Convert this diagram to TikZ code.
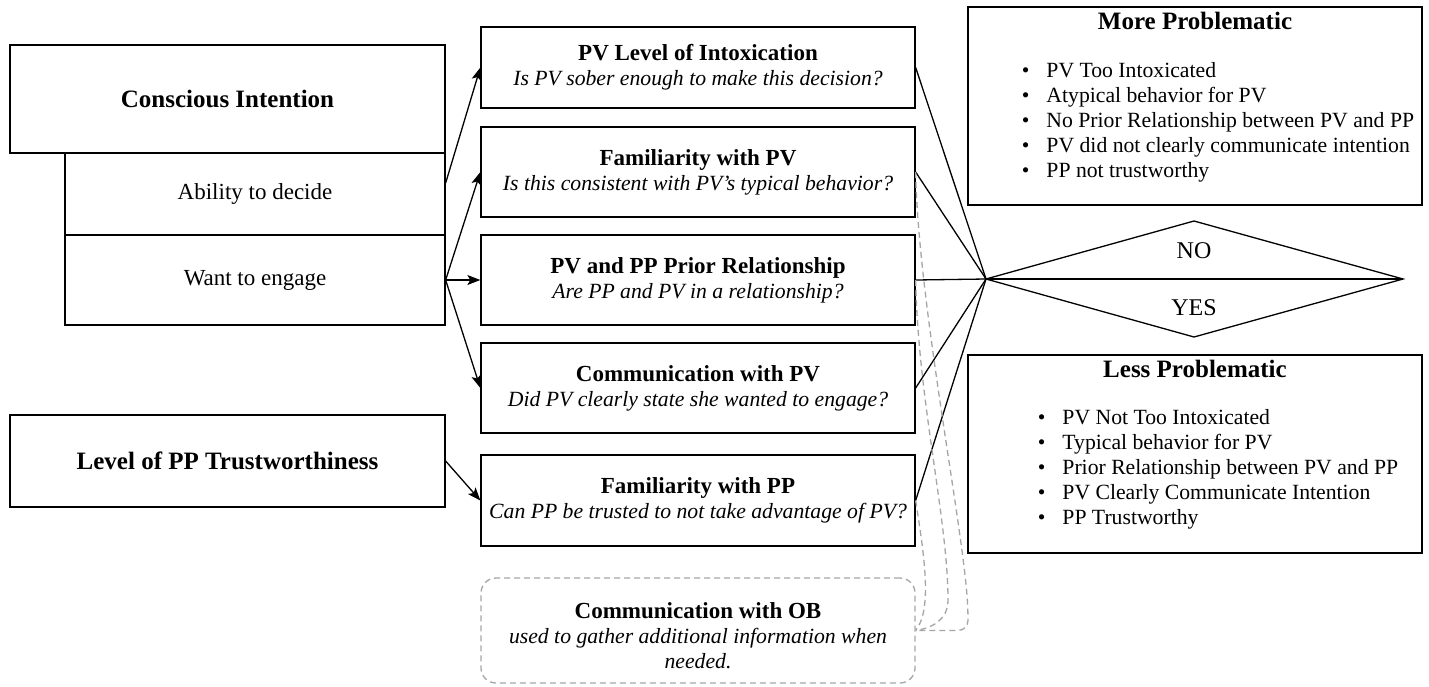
\documentclass[tikz,border=0pt]{standalone}
\usepackage{fontspec}
\setmainfont{Liberation Serif}
\usetikzlibrary{arrows.meta}
\definecolor{dgray}{HTML}{A6A6A6}
\newcommand\qttl{\fontsize{23}{25}\selectfont\bfseries\upshape}
\newcommand\qsbt{\fontsize{21.7}{25}\selectfont\mdseries\itshape}
\begin{document}
\begin{tikzpicture}[x=1pt,y=-1pt,
  box/.style={draw, line width=1.3pt, inner sep=0pt, align=center},
  midbox/.style={box, minimum width=434pt, minimum height=90pt, font=\fontsize{22}{25}\selectfont},
  conn/.style={line width=1.3pt},
  arr/.style={line width=1.3pt, -{Stealth[length=13pt,width=10pt,inset=3pt]}},
  dsh/.style={draw=dgray, line width=1.3pt, dash pattern=on 6pt off 4pt},
  bigb/.style={font=\fontsize{25}{28}\selectfont\bfseries},
  reg/.style={font=\fontsize{23}{26}\selectfont},
  lst/.style={font=\fontsize{21.7}{25}\selectfont, inner sep=0pt},
  dlab/.style={font=\fontsize{24}{28}\selectfont, inner sep=0pt}
]
\fill[white] (0,0) rectangle (1429,686);
\useasboundingbox (0,0) rectangle (1429,686);

% left boxes
\node[box, bigb, minimum width=435pt, minimum height=108pt] (ci) at (227.5,99) {Conscious Intention};
\node[box, reg, minimum width=380pt, minimum height=82pt] (abil) at (255,194) {Ability to decide};
\node[box, reg, minimum width=380pt, minimum height=90pt] (want) at (255,280) {Want to engage};
\node[box, bigb, minimum width=435pt, minimum height=92pt] (trust) at (227.5,461) {Level of PP Trustworthiness};

% middle boxes
\node[midbox, minimum height=81pt] (lvl) at (698,67.5) {\qttl PV Level of Intoxication\\\qsbt Is PV sober enough to make this decision?};
\node[midbox] (fpv) at (698,172) {\qttl Familiarity with PV\\\qsbt Is this consistent with PV’s typical behavior?};
\node[midbox] (rel) at (698,280) {\qttl PV and PP Prior Relationship\\\qsbt Are PP and PV in a relationship?};
\node[midbox] (cpv) at (698,388) {\qttl Communication with PV\\\qsbt Did PV clearly state she wanted to engage?};
\node[midbox, minimum height=91pt] (fpp) at (698,500.5) {\qttl Familiarity with PP\\\qsbt Can PP be trusted to not take advantage of PV?};

% OB box
\node[draw=dgray, line width=1.3pt, dash pattern=on 6pt off 4pt, rounded corners=15pt, minimum width=434pt, minimum height=105pt, inner sep=0pt] (ob) at (698,630.5) {};
\node[align=center, inner sep=0pt, font=\fontsize{22}{25}\selectfont] (obtext) at (698,636) {\qttl Communication with OB\\\qsbt used to gather additional information when\\\qsbt needed.};

% right boxes
\node[box, minimum width=454pt, minimum height=198pt] (more) at (1195,106) {};
\node[bigb, inner sep=0pt] (morehead) at (1195,21) {More Problematic};
\node[lst] (morelist) at (1218,122) {\begin{tabular}{@{}l@{\hspace{17pt}}l@{}}
\textbullet & PV Too Intoxicated\\
\textbullet & Atypical behavior for PV\\
\textbullet & No Prior Relationship between PV and PP\\
\textbullet & PV did not clearly communicate intention\\
\textbullet & PP not trustworthy
\end{tabular}};

\node[box, minimum width=454pt, minimum height=198pt] (less) at (1195,454) {};
\node[bigb, inner sep=0pt] (lesshead) at (1195,369) {Less Problematic};
\node[lst] (lesslist) at (1218,469) {\begin{tabular}{@{}l@{\hspace{17pt}}l@{}}
\textbullet & PV Not Too Intoxicated\\
\textbullet & Typical behavior for PV\\
\textbullet & Prior Relationship between PV and PP\\
\textbullet & PV Clearly Communicate Intention\\
\textbullet & PP Trustworthy
\end{tabular}};

% diamond
\coordinate (dl) at (986,279);
\coordinate (dr) at (1403,279);
\coordinate (dt) at (1194,221);
\coordinate (db) at (1194,337);
\draw[conn, line join=miter] (dl) -- (dt) -- (dr) -- (db) -- cycle;
\draw[conn] (dl) -- (dr);
\node[dlab] (no) at (1194,251) {NO};
\node[dlab] (yes) at (1194,308) {YES};

% arrows from left
\draw[arr] ([yshift=11pt]abil.east) -- (lvl.west);
\draw[arr] (want.east) -- (fpv.west);
\draw[arr] (want.east) -- (rel.west);
\draw[arr] (want.east) -- (cpv.west);
\draw[arr] (trust.east) -- (fpp.west);

% lines to diamond
\draw[conn] (lvl.east) -- (dl);
\draw[conn] (fpv.east) -- (dl);
\draw[conn] (rel.east) -- (dl);
\draw[conn] (cpv.east) -- (dl);
\draw[conn] (fpp.east) -- (dl);

% dashed connectors
\draw[dsh, rounded corners=10pt] (fpv.east) .. controls (918,300) and (962,520) .. (968,610) |- (ob.east);
\draw[dsh] (rel.east) .. controls (918,400) and (948,520) .. (948,600) .. controls (948,620) and (932,628) .. (ob.east);
\draw[dsh] (fpp.east) .. controls (925,560) and (932,610) .. (ob.east);
\end{tikzpicture}
\end{document}
